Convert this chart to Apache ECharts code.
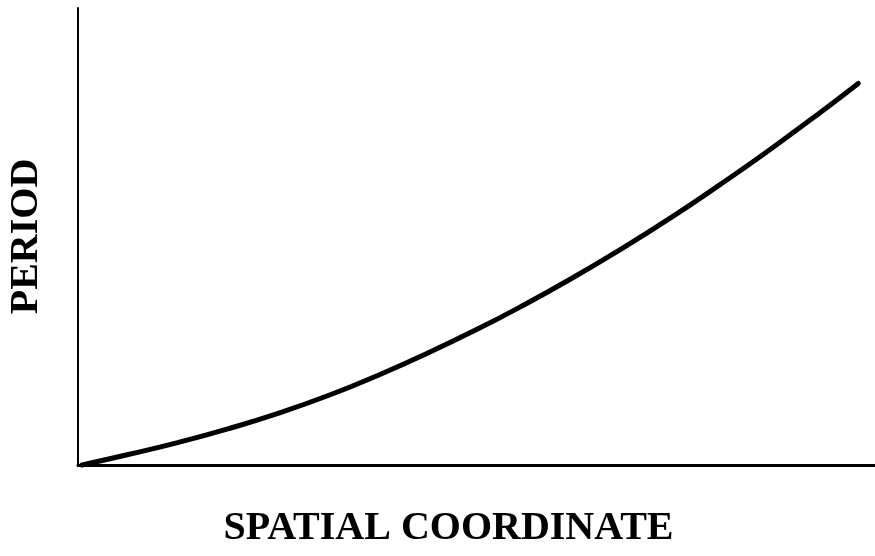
<!DOCTYPE html>
<html>
<head>
<meta charset="utf-8">
<script src="https://cdn.jsdelivr.net/npm/echarts@6/dist/echarts.min.js"></script>
<style>
  html, body { margin: 0; padding: 0; background: #fff; }
  #periodChart { width: 875px; height: 556px; }
</style>
</head>
<body>
<div id="periodChart"></div>
<script>
// 曲线数据（坐标轴 0-100 的相对刻度，从图上读出）
const spatialCoord = [0.5, 6.3, 12.5, 18.8, 25.1, 31.4, 37.6, 43.9, 50.2, 55.5, 61.7, 68.0, 74.3, 80.6, 86.8, 93.1, 97.9]
const periodValues = [0, 2.3, 4.9, 7.9, 11.3, 15.2, 19.6, 24.5, 29.8, 34.6, 40.6, 47.1, 54.0, 61.4, 69.0, 77.1, 83.5]
const xAxisName = 'SPATIAL COORDINATE'
const yAxisName = 'PERIOD'

const chart = echarts.init(document.getElementById('periodChart'))

const seriesData = spatialCoord.map((x, i) => [x, periodValues[i]])

const nameFont = {
  fontFamily: '"Liberation Serif", "DejaVu Serif", serif',
  fontWeight: 'bold',
  fontSize: 40,
  color: '#000'
}

const option = {
  animation: false,
  backgroundColor: '#fff',
  grid: {
    left: 78,
    right: 0,
    top: 8,
    bottom: 91,
    outerBoundsMode: 'none'
  },
  xAxis: {
    type: 'value',
    min: 0,
    max: 100,
    name: xAxisName,
    nameLocation: 'middle',
    nameGap: 44,
    nameTextStyle: Object.assign({ padding: [0, 56, 0, 0] }, nameFont),
    axisLine: { lineStyle: { color: '#000', width: 3 } },
    axisTick: { show: false },
    axisLabel: { show: false },
    splitLine: { show: false }
  },
  yAxis: {
    type: 'value',
    min: 0,
    max: 100,
    name: yAxisName,
    nameLocation: 'middle',
    nameGap: 31,
    nameTextStyle: nameFont,
    axisLine: { lineStyle: { color: '#000', width: 2 } },
    axisTick: { show: false },
    axisLabel: { show: false },
    splitLine: { show: false }
  },
  series: [{
    type: 'line',
    data: seriesData,
    smooth: 0.5,
    symbol: 'none',
    clip: false,
    lineStyle: { color: '#000', width: 5, cap: 'round' }
  }]
}

chart.setOption(option)
</script>
</body>
</html>
